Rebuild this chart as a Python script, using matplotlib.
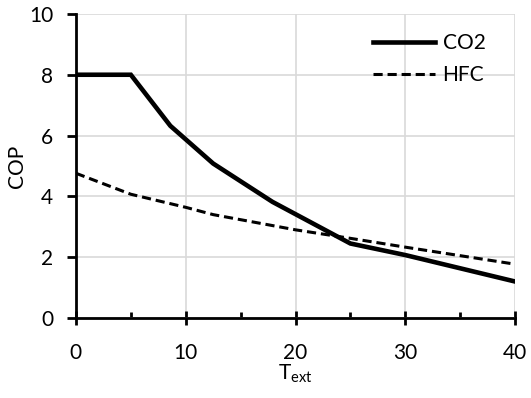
import matplotlib
matplotlib.use("Agg")
import matplotlib.pyplot as plt
from matplotlib.ticker import MultipleLocator

plt.rcParams['font.family'] = ['Lato', 'DejaVu Sans']

# COP vs external temperature
t_co2 = [0, 5, 8.6, 12.5, 17.9, 25, 30, 40]
cop_co2 = [8.0, 8.0, 6.32, 5.08, 3.82, 2.45, 2.07, 1.2]
t_hfc = [0, 5, 10, 12.5, 20, 25, 30, 40]
cop_hfc = [4.76, 4.07, 3.64, 3.4, 2.9, 2.62, 2.33, 1.77]

fig = plt.figure(figsize=(5.31, 3.98), dpi=100)
ax = fig.add_axes([0.143, 0.201, 0.827, 0.764])

ax.plot(t_co2, cop_co2, color='black', lw=3.3, label='CO2', solid_joinstyle='miter')
ax.plot(t_hfc, cop_hfc, color='black', lw=2.2, ls=(0, (3, 1.6)), label='HFC')

ax.set_xlim(0, 40)
ax.set_ylim(0, 10)
ax.xaxis.set_major_locator(MultipleLocator(10))
ax.xaxis.set_minor_locator(MultipleLocator(5))
ax.yaxis.set_major_locator(MultipleLocator(2))
ax.grid(True, which='major', color='#d9d9d9', lw=1.2)
ax.set_axisbelow(True)

for s in ['top', 'right']:
    ax.spines[s].set_visible(False)
for s in ['left', 'bottom']:
    ax.spines[s].set_linewidth(2)

ax.tick_params(axis='x', which='major', direction='inout', length=9.4, width=2, labelsize=15, pad=13)
ax.tick_params(axis='x', which='minor', direction='in', length=4.3, width=2)
ax.tick_params(axis='y', which='major', direction='out', length=6.5, width=2, labelsize=15, pad=10)

ax.set_xlabel('T$_{\\mathregular{ext}}$', fontsize=15, labelpad=0)
ax.set_ylabel('COP', fontsize=15, labelpad=1)

ax.legend(loc='upper right', bbox_to_anchor=(0.961, 0.977), frameon=False, fontsize=15,
          handlelength=3.0, handletextpad=0.35, borderaxespad=0.2, labelspacing=0.55)

fig.savefig('out.png', dpi=100)
